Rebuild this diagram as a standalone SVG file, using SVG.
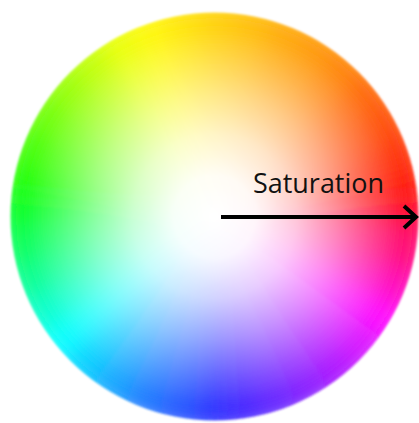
<svg xmlns="http://www.w3.org/2000/svg" xmlns:xlink="http://www.w3.org/1999/xlink" width="419" height="423" viewBox="0 0 419 423">
<style>
.lbl{font-family:"Open Sans","Noto Sans",sans-serif;font-size:28px;fill:#111}
.arr{stroke:#000;stroke-width:4;fill:none}
</style>
<defs>
<path id="w" d="M0 0 L213.8 -22.5 A215 215 0 0 1 213.8 22.5 Z"/>
<clipPath id="clip"><circle cx="214.5" cy="216.5" r="204"/></clipPath>
<filter id="blur" x="-10%" y="-10%" width="120%" height="120%"><feGaussianBlur stdDeviation="12"/></filter>
<filter id="soft" x="-5%" y="-5%" width="110%" height="110%"><feGaussianBlur stdDeviation="0.9"/></filter>
<radialGradient id="white" gradientUnits="userSpaceOnUse" cx="214.5" cy="216.5" r="205">
<stop offset="0" stop-color="#fff" stop-opacity="1"/>
<stop offset="0.2" stop-color="#fff" stop-opacity="0.96"/>
<stop offset="0.4" stop-color="#fff" stop-opacity="0.78"/>
<stop offset="0.6" stop-color="#fff" stop-opacity="0.52"/>
<stop offset="0.8" stop-color="#fff" stop-opacity="0.24"/>
<stop offset="0.95" stop-color="#fff" stop-opacity="0.04"/>
<stop offset="1" stop-color="#fff" stop-opacity="0"/>
</radialGradient>
</defs>
<rect width="419" height="423" fill="#fff"/>
<g id="wheel" filter="url(#soft)">
<g clip-path="url(#clip)">
<g filter="url(#blur)">
<use href="#w" transform="translate(214.5 216.5) rotate(0)" fill="hsl(351,100%,50%)"/>
<use href="#w" transform="translate(214.5 216.5) rotate(-10)" fill="hsl(3,100%,50%)"/>
<use href="#w" transform="translate(214.5 216.5) rotate(-20)" fill="hsl(10,100%,50%)"/>
<use href="#w" transform="translate(214.5 216.5) rotate(-30)" fill="hsl(17,100%,50%)"/>
<use href="#w" transform="translate(214.5 216.5) rotate(-40)" fill="hsl(23,100%,50%)"/>
<use href="#w" transform="translate(214.5 216.5) rotate(-50)" fill="hsl(30,100%,50%)"/>
<use href="#w" transform="translate(214.5 216.5) rotate(-60)" fill="hsl(35,100%,50%)"/>
<use href="#w" transform="translate(214.5 216.5) rotate(-70)" fill="hsl(39,100%,50%)"/>
<use href="#w" transform="translate(214.5 216.5) rotate(-80)" fill="hsl(44,100%,50%)"/>
<use href="#w" transform="translate(214.5 216.5) rotate(-90)" fill="hsl(48,100%,51%)"/>
<use href="#w" transform="translate(214.5 216.5) rotate(-100)" fill="hsl(53,100%,51%)"/>
<use href="#w" transform="translate(214.5 216.5) rotate(-110)" fill="hsl(58,100%,51%)"/>
<use href="#w" transform="translate(214.5 216.5) rotate(-120)" fill="hsl(65,100%,50%)"/>
<use href="#w" transform="translate(214.5 216.5) rotate(-130)" fill="hsl(75,100%,50%)"/>
<use href="#w" transform="translate(214.5 216.5) rotate(-140)" fill="hsl(85,100%,50%)"/>
<use href="#w" transform="translate(214.5 216.5) rotate(-150)" fill="hsl(95,100%,50%)"/>
<use href="#w" transform="translate(214.5 216.5) rotate(-160)" fill="hsl(105,100%,50%)"/>
<use href="#w" transform="translate(214.5 216.5) rotate(-170)" fill="hsl(115,100%,50%)"/>
<use href="#w" transform="translate(214.5 216.5) rotate(-180)" fill="hsl(127,100%,50%)"/>
<use href="#w" transform="translate(214.5 216.5) rotate(-190)" fill="hsl(140,100%,50%)"/>
<use href="#w" transform="translate(214.5 216.5) rotate(-200)" fill="hsl(153,100%,50%)"/>
<use href="#w" transform="translate(214.5 216.5) rotate(-210)" fill="hsl(167,100%,50%)"/>
<use href="#w" transform="translate(214.5 216.5) rotate(-220)" fill="hsl(180,100%,50%)"/>
<use href="#w" transform="translate(214.5 216.5) rotate(-230)" fill="hsl(192,100%,50%)"/>
<use href="#w" transform="translate(214.5 216.5) rotate(-240)" fill="hsl(203,100%,52%)"/>
<use href="#w" transform="translate(214.5 216.5) rotate(-250)" fill="hsl(215,100%,54%)"/>
<use href="#w" transform="translate(214.5 216.5) rotate(-260)" fill="hsl(226,100%,56%)"/>
<use href="#w" transform="translate(214.5 216.5) rotate(-270)" fill="hsl(238,100%,57%)"/>
<use href="#w" transform="translate(214.5 216.5) rotate(-280)" fill="hsl(248,100%,56%)"/>
<use href="#w" transform="translate(214.5 216.5) rotate(-290)" fill="hsl(259,100%,55%)"/>
<use href="#w" transform="translate(214.5 216.5) rotate(-300)" fill="hsl(269,100%,54%)"/>
<use href="#w" transform="translate(214.5 216.5) rotate(-310)" fill="hsl(279,100%,53%)"/>
<use href="#w" transform="translate(214.5 216.5) rotate(-320)" fill="hsl(290,100%,52%)"/>
<use href="#w" transform="translate(214.5 216.5) rotate(-330)" fill="hsl(300,100%,51%)"/>
<use href="#w" transform="translate(214.5 216.5) rotate(-340)" fill="hsl(317,100%,50%)"/>
<use href="#w" transform="translate(214.5 216.5) rotate(-350)" fill="hsl(334,100%,50%)"/>
</g>
<circle cx="214.5" cy="216.5" r="205" fill="url(#white)"/>
</g>
</g>
<g id="connectors">
<line class="arr" x1="221" y1="217" x2="415" y2="217"/>
<polyline class="arr" points="404,206 416,217 404,228"/>
</g>
<g id="label">
<text class="lbl" x="253" y="193" textLength="131" lengthAdjust="spacingAndGlyphs">Saturation</text>
</g>
</svg>
